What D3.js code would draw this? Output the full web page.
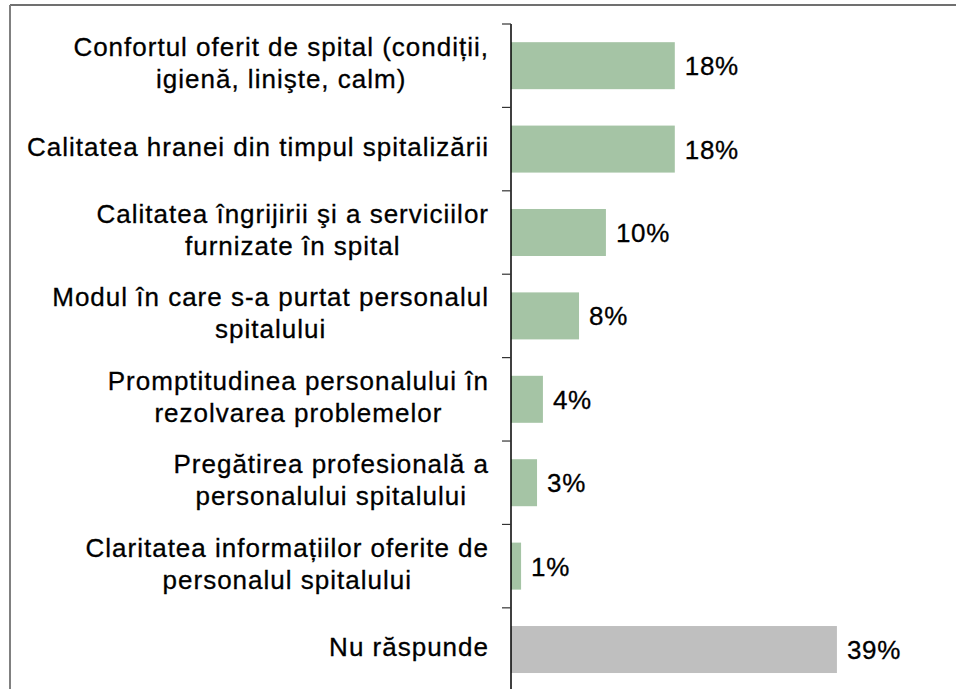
<!DOCTYPE html>
<html>
<head>
<meta charset="utf-8">
<script src="https://cdn.jsdelivr.net/npm/d3@7"></script>
<style>
  body { margin: 0; background: #ffffff; }
  svg { display: block; }
  text { font-family: "Liberation Sans", Arial, sans-serif; fill: #000000; stroke: #000000; stroke-width: 0.3px; }
</style>
</head>
<body>
<svg id="chart" width="956" height="689"></svg>
<script>
// category labels, one entry per line of the wrapped label
const categories = [
    ["Confortul oferit de spital (condiții,", "igienă, linişte, calm)"],
    ["Calitatea hranei din timpul spitalizării"],
    ["Calitatea îngrijirii şi a serviciilor", "furnizate în spital"],
    ["Modul în care s-a purtat personalul", "spitalului"],
    ["Promptitudinea personalului în", "rezolvarea problemelor"],
    ["Pregătirea profesională a", "personalului spitalului"],
    ["Claritatea informațiilor oferite de", "personalul spitalului"],
    ["Nu răspunde"]
];
// bar lengths (percent)
const barValues = [19.5, 19.5, 11.3, 8.1, 3.8, 3.1, 1.2, 38.8];
// printed value labels
const valueLabels = ["18%", "18%", "10%", "8%", "4%", "3%", "1%", "39%"];
const noAnswer = [false, false, false, false, false, false, false, true];

const svg = d3.select("svg#chart");
let width = +svg.attr("width");
let height = +svg.attr("height");
let margin = {top: 24, left: 511, labelRight: 489};

let yScale = d3.scaleBand()
    .domain(d3.range(categories.length))
    .range([margin.top, margin.top + 83.4 * categories.length])
    .paddingInner(0.4365)
    .paddingOuter(0.218);

let xScale = d3.scaleLinear()
    .domain([0, 40])
    .range([margin.left, margin.left + 40 * 8.4]);

// outer frame: top rule and left edge
svg.append("line")
    .attr("x1", 10).attr("x2", width)
    .attr("y1", 5).attr("y2", 5)
    .style("stroke", "#404040")
    .style("stroke-width", 1.5);
svg.append("line")
    .attr("x1", 10).attr("x2", 10)
    .attr("y1", 5).attr("y2", height)
    .style("stroke", "#808080")
    .style("stroke-width", 2);

// bars
categories.forEach((c, i) => {
    svg.append("rect")
        .attr("x", xScale(0))
        .attr("y", yScale(i))
        .attr("width", xScale(barValues[i]) - xScale(0))
        .attr("height", yScale.bandwidth())
        .style("fill", noAnswer[i] ? "#bfbfbf" : "#a5c4a5");

    svg.append("text")
        .attr("x", xScale(barValues[i]) + 10)
        .attr("y", yScale(i) + yScale.bandwidth() / 2 + 9.5)
        .style("font-size", "26px")
        .style("letter-spacing", "0.7px")
        .text(valueLabels[i]);
});

// axis line with ticks between categories
let step = yScale.step();
let tickYs = d3.range(categories.length + 1).map(i => margin.top + i * step);
svg.append("line")
    .attr("x1", margin.left).attr("x2", margin.left)
    .attr("y1", margin.top).attr("y2", height)
    .style("stroke", "#000000")
    .style("stroke-width", 1.5);
tickYs.forEach(y => {
    svg.append("line")
        .attr("x1", margin.left - 9).attr("x2", margin.left)
        .attr("y1", y).attr("y2", y)
        .style("stroke", "#333333")
        .style("stroke-width", 1.2);
});

// category labels: block right-aligned to the axis, lines centered inside it
categories.forEach((lines, i) => {
    let center = yScale(i) + yScale.bandwidth() / 2;
    let g = svg.append("g");
    let texts = lines.map((line, j) => g.append("text")
        .attr("y", center + (j - (lines.length - 1) / 2) * 32 + 6.5)
        .attr("text-anchor", "middle")
        .style("font-size", "26px")
        .style("letter-spacing", "1px")
        .text(line));
    let blockWidth = d3.max(texts, t => t.node().getComputedTextLength());
    texts.forEach(t => t.attr("x", margin.labelRight - blockWidth / 2));
});
</script>
</body>
</html>
